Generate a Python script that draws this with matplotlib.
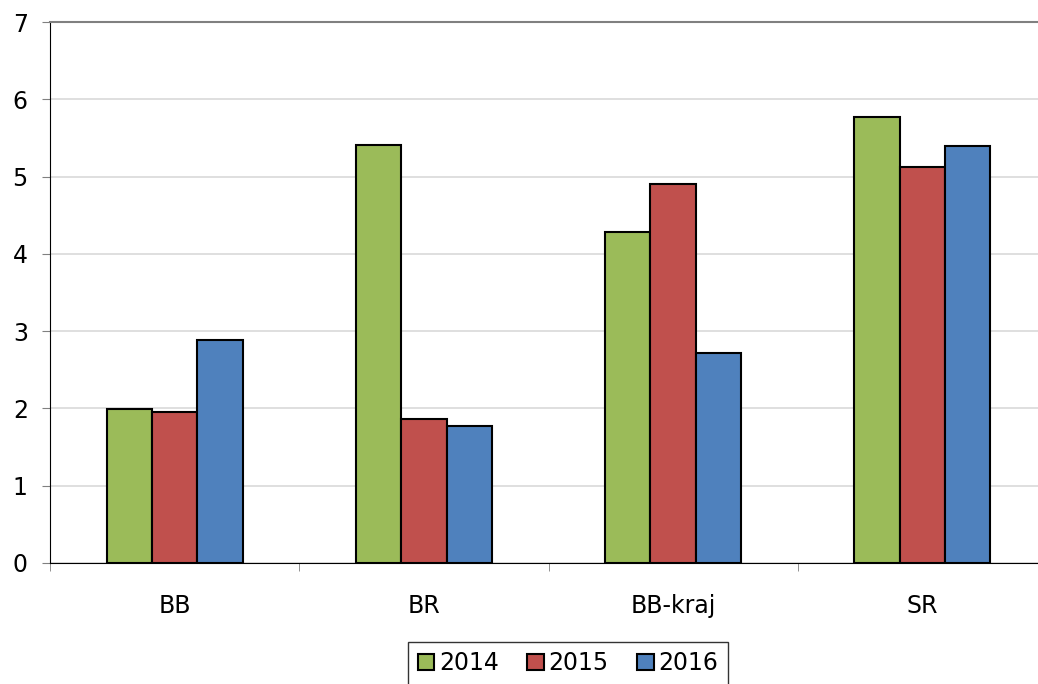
import matplotlib
matplotlib.use("Agg")
import matplotlib.pyplot as plt
import numpy as np

categories = ["BB", "BR", "BB-kraj", "SR"]
years = ["2014", "2015", "2016"]
v2014 = [1.99, 5.41, 4.28, 5.77]
v2015 = [1.95, 1.86, 4.90, 5.12]
v2016 = [2.88, 1.77, 2.72, 5.39]
colors = ["#9BBB59", "#C0504D", "#4F81BD"]

plt.rcParams['font.family'] = ['DejaVu Sans']
fig = plt.figure(figsize=(10.38, 6.84), dpi=100)
W, H = 1038, 684
left, right, top, bottom = 50, 1047, 22, 563
ax = fig.add_axes([left / W, 1 - bottom / H, (right - left) / W, (bottom - top) / H])

x = np.arange(len(categories))
bw = 0.182
for i, (vals, c, lab) in enumerate(zip([v2014, v2015, v2016], colors, years)):
    ax.bar(x + (i - 1) * bw, vals, bw, color=c, edgecolor="black", linewidth=1.5, label=lab, zorder=3)

ax.set_xlim(-0.5, len(categories) - 0.5)
ax.set_ylim(0, 7)
ax.set_yticks(range(0, 8))
ax.yaxis.grid(True, color="#D9D9D9", linewidth=1.2, zorder=0)
ax.set_axisbelow(True)
ax.spines["right"].set_visible(False)
ax.spines["top"].set_color("#808080")
ax.spines["top"].set_linewidth(1.5)
ax.spines["left"].set_color("black")
ax.spines["bottom"].set_color("black")
ax.set_xticks(x)
ax.set_xticklabels(categories)
ax.set_xticks(np.arange(-0.5, len(categories), 1), minor=True)
ax.tick_params(axis="x", which="major", length=0, pad=22, labelsize=17)
ax.tick_params(axis="x", which="minor", length=6, direction="out", color="#808080")
ax.tick_params(axis="y", length=6, direction="out", labelsize=17, pad=10, color="#808080")

leg = ax.legend(loc="upper center", bbox_to_anchor=(568 / W, 1 - 642 / H), bbox_transform=fig.transFigure,
                ncol=3, frameon=True, fancybox=False, fontsize=17, handlelength=0.7, handleheight=0.7,
                handletextpad=0.2, columnspacing=1.2, borderpad=0.4, borderaxespad=0)
leg.get_frame().set_edgecolor("black")
leg.get_frame().set_linewidth(1.0)

fig.savefig("out.png", dpi=100)
